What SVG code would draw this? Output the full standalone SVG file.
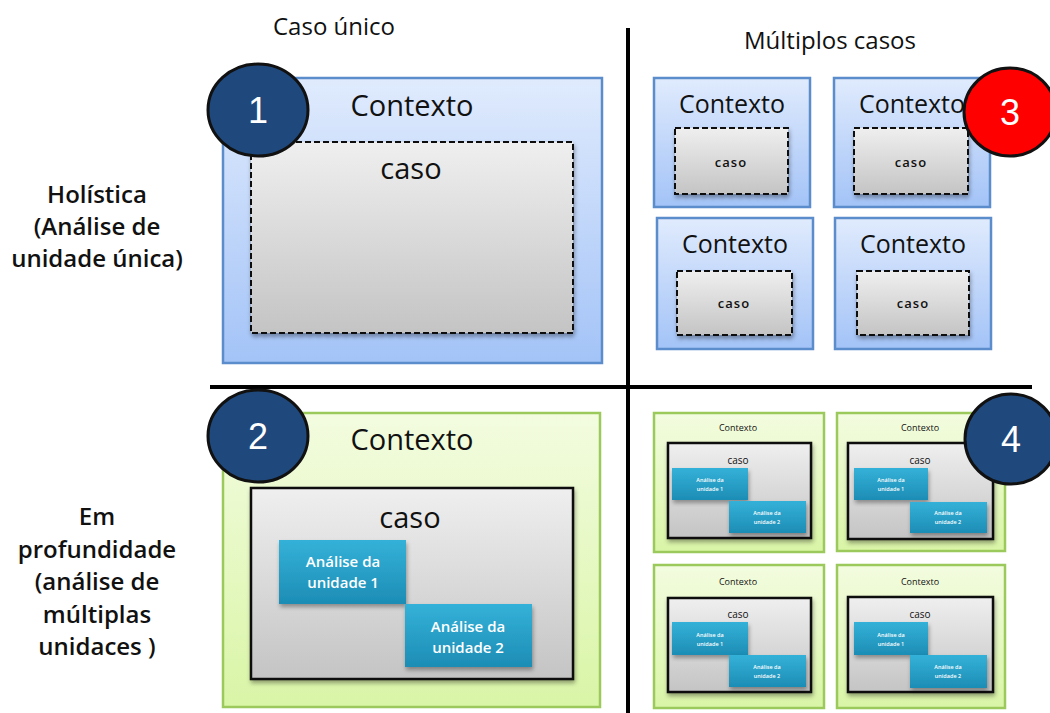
<svg xmlns="http://www.w3.org/2000/svg" width="1050" height="713" viewBox="0 0 1050 713">
<defs>
<linearGradient id="gBlue" x1="0" y1="0" x2="0" y2="1"><stop offset="0" stop-color="#e0ebfd"/><stop offset="1" stop-color="#a3c3f7"/></linearGradient>
<linearGradient id="gGreen" x1="0" y1="0" x2="0" y2="1"><stop offset="0" stop-color="#f3fce0"/><stop offset="1" stop-color="#d9f5a6"/></linearGradient>
<linearGradient id="gGray" x1="0" y1="0" x2="0" y2="1"><stop offset="0" stop-color="#efefef"/><stop offset="1" stop-color="#c4c4c4"/></linearGradient>
<linearGradient id="gTeal" x1="0" y1="0" x2="0" y2="1"><stop offset="0" stop-color="#34b1d8"/><stop offset="1" stop-color="#1d8db5"/></linearGradient>
<filter id="sh" x="-10%" y="-10%" width="125%" height="130%"><feDropShadow dx="1" dy="3" stdDeviation="2" flood-color="#000" flood-opacity="0.35"/></filter>
</defs>
<style>
text{font-family:"Open Sans","Noto Sans","DejaVu Sans",sans-serif;fill:#111;}
.ctxB{fill:url(#gBlue);stroke:#5b8ccb;stroke-width:2.5;}
.ctxG{fill:url(#gGreen);stroke:#9cc95c;stroke-width:2.5;}
.casoD{fill:url(#gGray);stroke:#111;stroke-width:2;stroke-dasharray:6 3;filter:url(#sh);}
.casoS{fill:url(#gGray);stroke:#111;stroke-width:2.5;filter:url(#sh);}
.unit{fill:url(#gTeal);filter:url(#sh);}
.ut{fill:#fff;font-weight:600;text-anchor:middle;}
.circ{stroke:#111;stroke-width:3;}
.num{fill:#fff;font-size:36px;text-anchor:middle;font-family:"Liberation Sans",Arial,sans-serif;}
.mid{text-anchor:middle;}
.hdr{font-size:24px;text-anchor:middle;}
.lbl{font-size:24px;text-anchor:middle;font-weight:600;}
.line{stroke:#000;stroke-width:4;}
</style>

<g id="dividers">
<line class="line" x1="628" y1="28" x2="628" y2="713"/>
<line class="line" x1="210" y1="387" x2="1032" y2="387"/>
</g>

<g id="headers">
<text class="hdr" x="334" y="35">Caso único</text>
<text class="hdr" x="830" y="49" font-size="26">Múltiplos casos</text>
</g>

<g id="row-labels">
<text class="lbl" x="97" y="203">Holística</text>
<text class="lbl" x="97" y="235">(Análise de</text>
<text class="lbl" x="97" y="267">unidade única)</text>
<text class="lbl" x="97" y="525">Em</text>
<text class="lbl" x="97" y="558">profundidade</text>
<text class="lbl" x="97" y="590">(análise de</text>
<text class="lbl" x="97" y="623">múltiplas</text>
<text class="lbl" x="97" y="655">unidaces )</text>
</g>

<!-- Quadrant 1 -->
<g id="q1">
<rect class="ctxB" x="223" y="78" width="379" height="285"/>
<text class="mid" x="412" y="116" font-size="29">Contexto</text>
<rect class="casoD" x="251" y="142" width="322" height="191"/>
<text class="mid" x="411" y="179" font-size="29">caso</text>
</g>
<g id="badge1">
<ellipse class="circ" cx="258" cy="110" rx="50" ry="46" fill="#1f497d"/>
<text class="num" x="258" y="123">1</text>
</g>

<!-- Quadrant 3 -->
<g id="q3a">
<rect class="ctxB" x="654" y="78" width="156" height="129"/>
<text class="mid" x="732" y="113" font-size="25">Contexto</text>
<rect class="casoD" x="675" y="128" width="113" height="66"/>
<text class="mid" x="731" y="167" font-size="13" font-weight="600" letter-spacing="1">caso</text>
</g>
<g id="q3b">
<rect class="ctxB" x="834" y="78" width="156" height="129"/>
<text class="mid" x="912" y="113" font-size="25">Contexto</text>
<rect class="casoD" x="854" y="128" width="114" height="66"/>
<text class="mid" x="911" y="167" font-size="13" font-weight="600" letter-spacing="1">caso</text>
</g>
<g id="q3c">
<rect class="ctxB" x="657" y="218" width="156" height="131"/>
<text class="mid" x="735" y="253" font-size="25">Contexto</text>
<rect class="casoD" x="677" y="271" width="115" height="64"/>
<text class="mid" x="734" y="308" font-size="13" font-weight="600" letter-spacing="1">caso</text>
</g>
<g id="q3d">
<rect class="ctxB" x="835" y="218" width="156" height="131"/>
<text class="mid" x="913" y="253" font-size="25">Contexto</text>
<rect class="casoD" x="857" y="271" width="112" height="64"/>
<text class="mid" x="913" y="308" font-size="13" font-weight="600" letter-spacing="1">caso</text>
</g>
<g id="badge3">
<ellipse class="circ" cx="1010" cy="112" rx="46" ry="44" fill="#ff0000"/>
<text class="num" x="1010" y="125">3</text>
</g>

<!-- Quadrant 2 -->
<g id="q2">
<rect class="ctxG" x="223" y="413" width="377" height="294"/>
<text class="mid" x="412" y="450" font-size="29">Contexto</text>
<rect class="casoS" x="251" y="488" width="322" height="191"/>
<text class="mid" x="410" y="528" font-size="29">caso</text>
<rect class="unit" x="279" y="540" width="127" height="64"/>
<text class="ut" x="343" y="567" font-size="15">Análise da</text>
<text class="ut" x="343" y="588" font-size="15">unidade 1</text>
<rect class="unit" x="405" y="604" width="127" height="63"/>
<text class="ut" x="468" y="632" font-size="15">Análise da</text>
<text class="ut" x="468" y="653" font-size="15">unidade 2</text>
</g>
<g id="badge2">
<ellipse class="circ" cx="258" cy="436" rx="50" ry="46" fill="#1f497d"/>
<text class="num" x="258" y="449">2</text>
</g>

<!-- Quadrant 4 -->
<g id="q4a">
<rect class="ctxG" x="654" y="413" width="170" height="139"/>
<text class="mid" x="738" y="431" font-size="9">Contexto</text>
<rect class="casoS" x="668" y="443" width="143" height="95"/>
<text class="mid" x="738" y="464" font-size="10">caso</text>
<rect class="unit" x="672" y="468" width="76" height="32"/>
<text class="ut" x="710" y="482" font-size="5.5">Análise da</text>
<text class="ut" x="710" y="491" font-size="5.5">unidade 1</text>
<rect class="unit" x="729" y="501" width="77" height="32"/>
<text class="ut" x="767" y="515" font-size="5.5">Análise da</text>
<text class="ut" x="767" y="524" font-size="5.5">unidade 2</text>
</g>
<g id="q4b">
<rect class="ctxG" x="837" y="413" width="168" height="138"/>
<text class="mid" x="920" y="431" font-size="9">Contexto</text>
<rect class="casoS" x="848" y="443" width="145" height="96"/>
<text class="mid" x="920" y="464" font-size="10">caso</text>
<rect class="unit" x="854" y="468" width="74" height="32"/>
<text class="ut" x="891" y="482" font-size="5.5">Análise da</text>
<text class="ut" x="891" y="491" font-size="5.5">unidade 1</text>
<rect class="unit" x="910" y="502" width="77" height="31"/>
<text class="ut" x="948" y="515" font-size="5.5">Análise da</text>
<text class="ut" x="948" y="524" font-size="5.5">unidade 2</text>
</g>
<g id="q4c">
<rect class="ctxG" x="654" y="565" width="170" height="143"/>
<text class="mid" x="738" y="585" font-size="9">Contexto</text>
<rect class="casoS" x="668" y="598" width="143" height="94"/>
<text class="mid" x="738" y="618" font-size="10">caso</text>
<rect class="unit" x="672" y="622" width="76" height="33"/>
<text class="ut" x="710" y="637" font-size="5.5">Análise da</text>
<text class="ut" x="710" y="646" font-size="5.5">unidade 1</text>
<rect class="unit" x="729" y="655" width="77" height="32"/>
<text class="ut" x="767" y="669" font-size="5.5">Análise da</text>
<text class="ut" x="767" y="678" font-size="5.5">unidade 2</text>
</g>
<g id="q4d">
<rect class="ctxG" x="837" y="565" width="168" height="143"/>
<text class="mid" x="920" y="585" font-size="9">Contexto</text>
<rect class="casoS" x="848" y="597" width="145" height="95"/>
<text class="mid" x="920" y="618" font-size="10">caso</text>
<rect class="unit" x="854" y="622" width="74" height="33"/>
<text class="ut" x="891" y="637" font-size="5.5">Análise da</text>
<text class="ut" x="891" y="646" font-size="5.5">unidade 1</text>
<rect class="unit" x="910" y="655" width="77" height="33"/>
<text class="ut" x="948" y="669" font-size="5.5">Análise da</text>
<text class="ut" x="948" y="678" font-size="5.5">unidade 2</text>
</g>
<g id="badge4">
<ellipse class="circ" cx="1011" cy="439" rx="46" ry="45" fill="#1f497d"/>
<text class="num" x="1011" y="452">4</text>
</g>
</svg>
